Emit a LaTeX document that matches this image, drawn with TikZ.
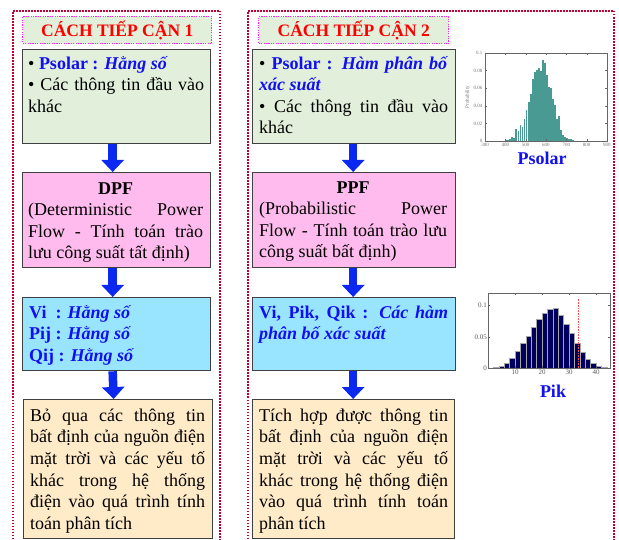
\documentclass[tikz,border=0pt]{standalone}
\usepackage{fontspec}
\setmainfont{Liberation Serif}
\usetikzlibrary{arrows.meta}
\setlength{\parindent}{0pt}
\definecolor{boxgreen}{HTML}{E2EFDA}
\definecolor{boxpink}{HTML}{FFBBEE}
\definecolor{boxcyan}{HTML}{99E5FF}
\definecolor{boxyellow}{HTML}{FFEBC8}
\definecolor{framered}{HTML}{C00030}
\definecolor{titlemag}{HTML}{FF22FF}
\definecolor{txtblue}{HTML}{1010F0}
\definecolor{arrowblue}{HTML}{0A28F0}
\definecolor{tealbar}{HTML}{4A9A94}
\definecolor{navybar}{HTML}{00005C}
\newcommand{\bl}[1]{\textcolor{txtblue}{\textbf{#1}}}
\begin{document}
\begin{tikzpicture}[x=1pt,y=-1pt,
  frame/.style={draw=framered, line width=1.8pt, dash pattern=on 1.5pt off 1.5pt},
  titlebox/.style={draw=titlemag, line width=1.4pt, dash pattern=on 1.2pt off 1.2pt, fill=boxgreen, anchor=north west, inner sep=0pt, font=\fontsize{17.5}{20}\selectfont\bfseries, text=red},
  box/.style={draw=black!75, line width=1.3pt, inner sep=0pt, anchor=north west},
  body/.style={anchor=north west, inner sep=0pt, align=justify, font=\fontsize{18}{21.6}\selectfont},
  flow/.style={draw=arrowblue, line width=8.5pt, -{Triangle[width=22pt,length=12pt]}},
  axlbl/.style={font=\fontsize{5}{5}\selectfont, text=black!55, inner sep=0.5pt},
  pklbl/.style={font=\fontsize{7}{7}\selectfont, text=black!65, inner sep=1pt},
  chartname/.style={font=\fontsize{18}{20}\selectfont\bfseries, text=txtblue, inner sep=0pt, anchor=base},
]
\useasboundingbox (0,0) rectangle (619,540);
% outer frames
\draw[frame] (13,545) -- (13,11) -- (220,11) -- (220,545);
\draw[frame] (248,545) -- (248,11) -- (614,11) -- (614,545);
% titles
\node[titlebox, minimum width=189pt, minimum height=27pt] (t1) at (22,16) {CÁCH TIẾP CẬN 1};
\node[titlebox, minimum width=190pt, minimum height=27pt] (t2) at (258,16) {CÁCH TIẾP CẬN 2};
% column 1 boxes
\node[box, fill=boxgreen, minimum width=188pt, minimum height=94pt] (g1) at (22,49) {};
\node[box, fill=boxpink, minimum width=188pt, minimum height=95pt] (p1) at (22,172) {};
\node[box, fill=boxcyan, minimum width=188pt, minimum height=73pt] (c1) at (22,297) {};
\node[box, fill=boxyellow, minimum width=189pt, minimum height=139pt] (y1) at (23,399) {};
% column 2 boxes
\node[box, fill=boxgreen, minimum width=203pt, minimum height=94pt] (g2) at (252,49) {};
\node[box, fill=boxpink, minimum width=203pt, minimum height=95pt] (p2) at (252,172) {};
\node[box, fill=boxcyan, minimum width=203pt, minimum height=73pt] (c2) at (252,297) {};
\node[box, fill=boxyellow, minimum width=202pt, minimum height=139pt] (y2) at (252,399) {};
% arrows
\draw[flow] ([xshift=-4pt]g1.south) -- ([xshift=-4pt]p1.north);
\draw[flow] ([xshift=-4pt]p1.south) -- ([xshift=-4pt]c1.north);
\draw[flow] ([xshift=-4pt]c1.south) -- ([xshift=-4.5pt]y1.north);
\draw[flow] ([xshift=-1pt]g2.south) -- ([xshift=-1pt]p2.north);
\draw[flow] ([xshift=-1pt]p2.south) -- ([xshift=-1pt]c2.north);
\draw[flow] ([xshift=-1pt]c2.south) -- ([xshift=-0.5pt]y2.north);
% texts column 1
\node[body, text width=176pt] (g1t) at (28,51) {\rule{0pt}{18pt}• \bl{Psolar : \textit{Hằng số}}\par
• Các thông tin đầu vào\linebreak khác};
\node[body, text width=175pt] (p1t) at (28,176) {\hbox to\hsize{\rule{0pt}{18pt}\hfil\textbf{DPF}\hfil}
(Deterministic Power\linebreak Flow - Tính toán trào\linebreak lưu công suất tất định)};
\node[body, text width=176pt] (c1t) at (29,300) {\rule{0pt}{18pt}\bl{Vi\ \ : \textit{Hằng số}}\par
\bl{Pij : \textit{Hằng số}}\par \bl{Qij : \textit{Hằng số}}};
\node[body, text width=175pt] (y1t) at (30,403) {\rule{0pt}{18pt}Bỏ qua các thông tin\linebreak bất định của nguồn điện\linebreak mặt trời và các yếu tố\linebreak khác trong hệ thống\linebreak điện vào quá trình tính\linebreak toán phân tích};
% texts column 2
\node[body, text width=189pt] (g2t) at (259,51) {\rule{0pt}{18pt}• \bl{Psolar : \textit{Hàm phân bố}}\linebreak \bl{\textit{xác suất}}\par
• Các thông tin đầu vào\linebreak khác};
\node[body, text width=188pt] (p2t) at (259,175) {\hbox to\hsize{\rule{0pt}{18pt}\hfil\textbf{PPF}\hfil}
(Probabilistic Power\linebreak Flow - Tính toán trào lưu\linebreak công suất bất định)};
\node[body, text width=189pt] (c2t) at (259,300) {\rule{0pt}{18pt}\bl{Vi, Pik, Qik : \textit{Các hàm}}\linebreak \bl{\textit{phân bố xác suất}}};
\node[body, text width=189pt] (y2t) at (259,403) {\rule{0pt}{18pt}Tích hợp được thông tin\linebreak bất định của nguồn điện\linebreak mặt trời và các yếu tố\linebreak khác trong hệ thống điện\linebreak vào quá trình tính toán\linebreak phân tích};
% Psolar histogram
\begin{scope}[shift={(485,141)}, xscale=0.2033, yscale=-880]
  \foreach \v/\h in {100/0.001,110/0.001,120/0.002,130/0.004,140/0.003,150/0.014,160/0.011,170/0.018,180/0.016,190/0.025,200/0.035,210/0.044,220/0.053,230/0.070,240/0.078,250/0.081,260/0.083,270/0.079,280/0.092,290/0.089,300/0.075,310/0.061,320/0.060,330/0.048,340/0.041,350/0.025,360/0.028,370/0.013,380/0.007,390/0.004,400/0.003,410/0.002,420/0.002,430/0.001}
    \fill[tealbar] (\v,0) rectangle (\v+9,\h);
  \draw[black!60, line width=0.5pt] (0,0) rectangle (600,0.1);
  \foreach \v/\l in {0/300,100/400,200/500,300/600,400/700,500/800,600/900} {
    \draw[black!60, line width=0.3pt] (\v,0) -- (\v,0.0025) (\v,0.1) -- (\v,0.0975);
    \node[axlbl, below=1pt] at (\v,0) {\l};
  }
  \foreach \h/\l in {0/0,0.02/0.02,0.04/0.04,0.06/0.06,0.08/0.08,0.1/0.1} {
    \draw[black!60, line width=0.3pt] (0,\h) -- (10,\h) (600,\h) -- (590,\h);
    \node[axlbl, left=2pt] at (0,\h) {\l};
  }
  \node[axlbl, rotate=90] at (-85,0.05) {Probability};
\end{scope}
\node[chartname] (psl) at (542,165) {Psolar};
% Pik histogram
\begin{scope}[shift={(488,368.3)}, xscale=2.7, yscale=-627]
  \foreach \v/\h in {2/0.002,4/0.004,6/0.008,8/0.016,10/0.028,12/0.040,14/0.052,16/0.066,18/0.078,20/0.088,22/0.094,24/0.096,26/0.085,28/0.071,30/0.056,32/0.040,34/0.025,36/0.014,38/0.008,40/0.004,42/0.002}
    \filldraw[fill=navybar, draw=black!35, line width=0.3pt] (\v,0) rectangle (\v+2,\h);
  \draw[red!70, line width=0.8pt, dash pattern=on 1pt off 0.6pt] (33.4,0) -- (33.4,0.111);
  \draw[black!60, line width=0.5pt] (0,0) rectangle (45.2,0.12);
  \foreach \v in {10,20,30,40} {
    \draw[black!60, line width=0.3pt] (\v,0) -- (\v,0.003) (\v,0.12) -- (\v,0.117);
    \node[pklbl, below] at (\v,0) {\v};
  }
  \foreach \h/\l in {0/0,0.05/0.05,0.1/0.1} {
    \draw[black!60, line width=0.3pt] (0,\h) -- (0.8,\h) (45.2,\h) -- (44.4,\h);
    \node[pklbl, left] at (0,\h) {\l};
  }
\end{scope}
\node[chartname] (pik) at (553,397) {Pik};
\end{tikzpicture}
\end{document}
